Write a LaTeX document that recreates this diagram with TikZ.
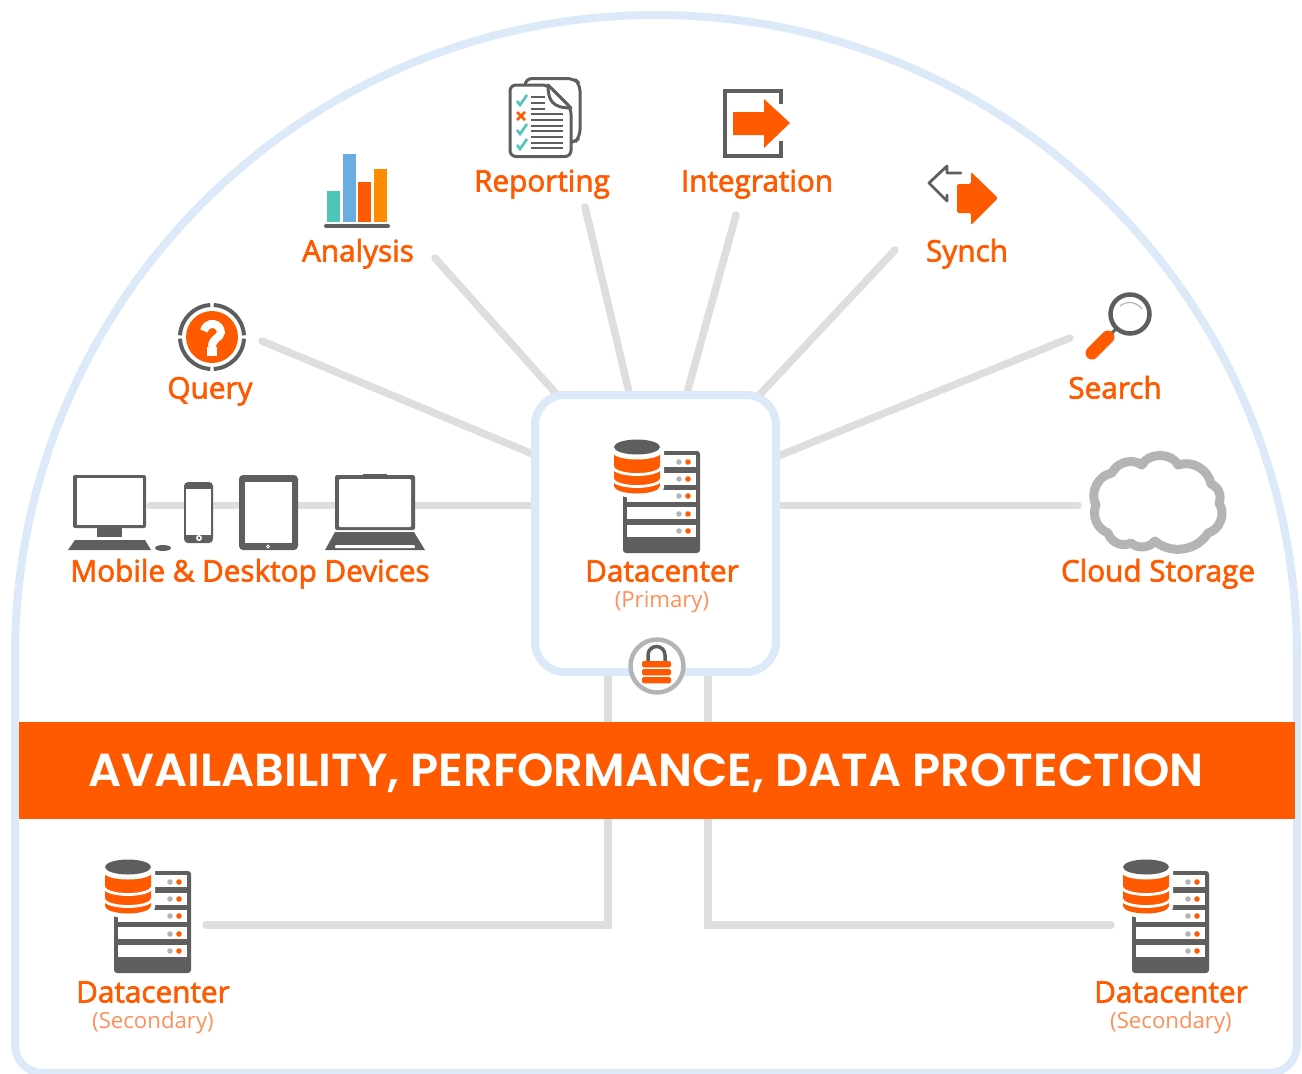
\documentclass[tikz,border=0pt]{standalone}
\usepackage{fontspec}
\setmainfont{Open Sans}[FakeBold=2.2]
\newfontfamily\subfont{Open Sans}
\newfontfamily\bannerfont{Poppins}[BoldFont={Poppins SemiBold}]
\usetikzlibrary{backgrounds}
\definecolor{brand}{HTML}{FF5A00}
\definecolor{softbrand}{HTML}{FF8F57}
\definecolor{archblue}{HTML}{DCE9F8}
\definecolor{wire}{HTML}{DEDEDE}
\definecolor{dark}{HTML}{5E5E5E}
\definecolor{midgray}{HTML}{B3B4B6}
\definecolor{teal}{HTML}{4EC5B9}
\definecolor{skyb}{HTML}{6BADE0}
\definecolor{amber}{HTML}{FF8C00}
\tikzset{
 x=1pt,y=-1pt,
 wireline/.style={draw=wire,line width=7.5pt,line cap=round,miter limit=10},
 archline/.style={draw=archblue,line width=8pt},
 lab/.style={text=brand,anchor=base,inner sep=0pt,font=\fontsize{29.7}{32}\selectfont},
 sublab/.style={text=softbrand,anchor=base,inner sep=0pt,font=\subfont\fontsize{22.2}{26}\selectfont},
 servericon/.pic={
  \fill[dark,rounded corners=3pt] (0,0) rectangle (77,102);
  \foreach \yy/\dy in {4/11,22/28,39/45,56/63,74/80}{
   \fill[white] (4,\yy) rectangle (73,\yy+12);
   \fill[midgray] (56,\dy) circle[radius=2.8];
   \fill[brand] (65,\dy) circle[radius=2.8];
  }
  \fill[white] (-13,-4) -- (-13,36) arc[start angle=180,end angle=0,x radius=27,y radius=11] -- (41,-4) arc[start angle=0,end angle=-180,x radius=27,y radius=11];
  \fill[brand] (-9,2) -- (-9,35) arc[start angle=180,end angle=0,x radius=23,y radius=7.5] -- (37,2) -- cycle;
  \draw[white,line width=2.8pt] (-10,16) arc[start angle=180,end angle=0,x radius=24,y radius=7.5];
  \draw[white,line width=2.8pt] (-10,28) arc[start angle=180,end angle=0,x radius=24,y radius=7.5];
  \fill[white] (14,1.5) ellipse[x radius=24,y radius=7];
  \fill[dark] (14,-4) ellipse[x radius=23,y radius=7.5];
 }
}
\begin{document}
\begin{tikzpicture}
\useasboundingbox (0,0) rectangle (1302,1074);
% central box
\node[draw=archblue,fill=white,line width=8pt,rounded corners=30pt,minimum width=241pt,minimum height=277pt,inner sep=0pt] (primary) at (655.5,533.5) {};
% named ends
\coordinate (hub) at (656,505.5);
\coordinate (queryEnd) at (262,341);
\coordinate (analysisEnd) at (435,258);
\coordinate (reportingEnd) at (585,207);
\coordinate (integrationEnd) at (736,215);
\coordinate (synchEnd) at (895,250);
\coordinate (searchEnd) at (1070,338);
\coordinate (devicesEnd) at (150,505.5);
\coordinate (cloudEnd) at (1078,505.5);
\coordinate (secLeftEnd) at (206,925);
\coordinate (secRightEnd) at (1111,925);
\begin{scope}[on background layer]
 \draw[archline] (15,656) arc[start angle=180,end angle=360,radius=641];
 \draw[archline,rounded corners=28pt] (15,656) -- (15,1073) -- (1297,1073) -- (1297,656);
 \foreach \e in {queryEnd,analysisEnd,reportingEnd,integrationEnd,synchEnd,searchEnd,devicesEnd,cloudEnd}
  \draw[wireline] (\e) -- (hub);
 \draw[wireline] (secLeftEnd) -| ([xshift=-47.5pt]primary.south);
 \draw[wireline] (secRightEnd) -| ([xshift=52.5pt]primary.south);
\end{scope}
% banner
\node[fill=brand,minimum width=1276pt,minimum height=97pt,inner sep=0pt] (banner) at (657,770.5) {};
\node[text=white,anchor=base,inner sep=0pt,font=\bannerfont\bfseries\fontsize{46.3}{48}\selectfont] (bannertext) at (646,786) {AVAILABILITY, PERFORMANCE, DATA PROTECTION};
% servers
\pic at (623,451) {servericon};
\pic at (114,871) {servericon};
\pic at (1132,871) {servericon};
\node[lab] (dcp) at (662,581.5) {Datacenter};
\node[sublab] (dcps) at (662,607) {(Primary)};
\node[lab] (dca) at (153,1002.5) {Datacenter};
\node[sublab] (dcas) at (153,1028) {(Secondary)};
\node[lab] (dcb) at (1171,1002.5) {Datacenter};
\node[sublab] (dcbs) at (1171,1028) {(Secondary)};
% lock
\node[circle,draw=midgray,fill=white,line width=4.5pt,minimum size=53pt,inner sep=0pt] (lock) at (657,666) {};
\draw[dark,line width=3.5pt] (648,661) -- (648,655) arc[start angle=180,end angle=360,radius=8.5] -- (665,661);
\foreach \yy in {661,669,677}\fill[brand,rounded corners=1.5pt] (642,\yy) rectangle (671,\yy+6.3);
% labels
\node[lab] (qlab) at (210,398.5) {Query};
\node[lab] (alab) at (358,261.5) {Analysis};
\node[lab] (rlab) at (542,191.5) {Reporting};
\node[lab] (ilab) at (757,191.5) {Integration};
\node[lab] (slab) at (967,261.5) {Synch};
\node[lab] (selab) at (1115,398.5) {Search};
\node[lab] (mlab) at (250,581.5) {Mobile \& Desktop Devices};
\node[lab] (clab) at (1158,581.5) {Cloud Storage};
% query icon
\fill[brand] (212,337) circle[radius=26];
\foreach \a in {0,90,180,270}
 \draw[dark,line width=4pt] (212,337) ++(\a+3:32) arc[start angle=\a+3,end angle=\a+87,radius=32];
\draw[white,line width=8pt] (204,331) arc[start angle=190,end angle=360,radius=8.5] .. controls (220.5,338) and (212,338) .. (212,347);
\fill[white] (207,347) rectangle (217,356);
% analysis icon
\fill[teal] (327,191) rectangle (340,222);
\fill[skyb] (343,154) rectangle (356,222);
\fill[brand] (358,182) rectangle (371,222);
\fill[amber] (374,169) rectangle (387,222);
\draw[dark,line width=4pt,line cap=round] (326,226) -- (388,226);
% reporting icon
\draw[dark,line width=3pt,fill=white,rounded corners=7pt] (525,78.5) -- (574,78.5) -- (580,84) -- (580,137) -- (574,143) -- (525,143) -- cycle;
\draw[dark,line width=3pt,fill=white,rounded corners=6pt] (510,85) -- (548,85) -- (571,108) [sharp corners] -- (571,150) [rounded corners=6pt] -- (571,156.5) -- (510,156.5) -- cycle;
\draw[dark,line width=3pt,fill=white,line join=round] (548,85) .. controls (548,100) and (552,108) .. (571,108) -- cycle;
\foreach \yy in {114,120,126,131,137,143,148}\draw[dark,line width=1.8pt] (531,\yy) -- (563,\yy);
\foreach \yy in {97,103,109}\draw[dark,line width=1.8pt] (531,\yy) -- (545,\yy);
\foreach \yy in {101,130,145}\draw[teal,line width=2.6pt] (517,\yy) -- (520,\yy+4) -- (527,\yy-6);
\draw[brand,line width=2.6pt] (517,112) -- (525,120) (525,112) -- (517,120);
% integration icon
\draw[dark,line width=4.5pt] (781,104) -- (781,91) -- (725,91) -- (725,156) -- (781,156) -- (781,141);
\draw[white,line width=5pt,fill=white] (764,99) -- (790,123) -- (764,148) -- cycle;
\fill[brand] (733,112) -- (764,112) -- (764,99) -- (790,123) -- (764,148) -- (764,135) -- (733,135) -- cycle;
% synch icon
\draw[dark,line width=2.8pt,line cap=round,line join=round] (961,173) -- (947,173) -- (947,166) -- (929,183) -- (947,201) -- (947,195);
\fill[brand,rounded corners=2pt] (957,184) -- (971,184) -- (971,172) -- (998,198) -- (971,225) -- (971,213) -- (957,213) -- cycle;
% search icon
\draw[dark,line width=4.5pt,fill=white] (1130,314) circle[radius=19.5];
\draw[midgray,line width=1.2pt] (1120,306) .. controls (1126,301) and (1136,301) .. (1142,309);
\draw[dark,line width=3pt] (1117,328) -- (1108,337);
\draw[brand,line width=13pt,line cap=round] (1108,337) -- (1092,353);
% devices
\fill[dark,rounded corners=2pt] (73,475) rectangle (146,528);
\fill[white] (77,478) rectangle (143,525);
\fill[dark] (97,525) rectangle (122,537);
\fill[dark] (75,540) -- (145,540) -- (151,550) -- (68,550) -- cycle;
\fill[dark] (163,548) ellipse[x radius=8,y radius=3];
\fill[dark,rounded corners=4pt] (184,482) rectangle (213,543);
\fill[white] (186,489) rectangle (211,535);
\draw[white,line width=1.5pt] (199,538) circle[radius=2.2];
\fill[dark,rounded corners=4pt] (239,475) rectangle (298,550);
\fill[white] (245,482) rectangle (292,543);
\draw[white,line width=1pt] (268,546.5) circle[radius=1.5];
\fill[dark] (363,474) rectangle (387,478);
\fill[dark,rounded corners=2pt] (335,475) rectangle (415,530);
\fill[white,rounded corners=1pt] (339,479) rectangle (411,527);
\fill[dark] (335,532) -- (414,532) -- (425,550) -- (325,550) -- cycle;
\fill[white,rounded corners=1pt] (335,545) rectangle (415,548);
% cloud
\draw[midgray,fill=white,line width=9pt,line join=round]
 (1096,505) to[bend left=55] (1112,473) to[bend left=50] (1142,465)
 to[bend left=65] (1178,465) to[bend left=50] (1211,484) to[bend left=45] (1219,503)
 to[bend left=55] (1208,533) to[bend left=50] (1155,541) to[bend left=45] (1131,543)
 to[bend left=50] (1108,533) to[bend left=45] cycle;
\end{tikzpicture}
\end{document}
